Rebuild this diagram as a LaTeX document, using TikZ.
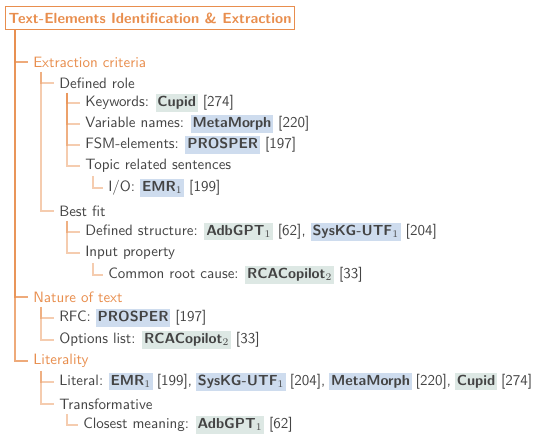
\documentclass[tikz,border=0pt]{standalone}
\usepackage{fontspec}
\usetikzlibrary{calc}
\definecolor{accent}{RGB}{232,142,78}
\definecolor{txt}{RGB}{68,68,68}
\definecolor{hlg}{RGB}{221,232,228}
\definecolor{hlb}{RGB}{206,220,238}
\newcommand{\hlgr}[1]{{\setlength{\fboxsep}{1.3pt}\colorbox{hlg}{\vphantom{Ap}\fontsize{10.2}{12}\selectfont\textbf{#1}}}}
\newcommand{\hlbl}[1]{{\setlength{\fboxsep}{1.3pt}\colorbox{hlb}{\vphantom{Ap}\fontsize{10.2}{12}\selectfont\textbf{#1}}}}
\begin{document}
\begin{tikzpicture}[x=0.7pt, y=-0.7pt,
  font=\sffamily\fontsize{10.5}{12.6}\selectfont,
  lbl/.style={anchor=west, inner sep=0pt, text=txt},
  cat/.style={lbl, text=accent},
  rootbox/.style={draw=accent, line width=0.7pt, text=accent, font=\sffamily\bfseries\fontsize{10.3}{12}\selectfont, anchor=north west, inner xsep=2.2pt, minimum height=16.1pt},
  eone/.style={draw=accent, line width=0.85pt, opacity=0.75},
  etwo/.style={draw=accent, line width=0.85pt, opacity=0.45}]
\useasboundingbox (0,0) rectangle (536,439);
\node[rootbox] (root) at (5,6) {Text-Elements Identification \& Extraction};
% level 1
\node[cat] (ec) at (33,62) {Extraction criteria};
\node[cat] (nt) at (33,297) {Nature of text};
\node[cat] (li) at (33,361) {Literality};
% extraction criteria
\node[lbl] (dr) at (59,83) {Defined role};
\node[lbl] (kw) at (85,103) {Keywords: \hlgr{Cupid} [274]};
\node[lbl] (vn) at (85,124) {Variable names: \hlbl{MetaMorph} [220]};
\node[lbl] (fsm) at (85,145) {FSM-elements: \hlbl{PROSPER} [197]};
\node[lbl] (trs) at (85,166) {Topic related sentences};
\node[lbl] (io) at (108,188) {I/O: \hlbl{EMR\textsubscript{\normalfont 1}} [199]};
\node[lbl] (bf) at (59,211) {Best fit};
\node[lbl] (ds) at (85,232) {Defined structure: \hlgr{AdbGPT\textsubscript{\normalfont 1}} [62], \hlbl{SysKG-UTF\textsubscript{\normalfont 1}} [204]};
\node[lbl] (ip) at (85,253) {Input property};
\node[lbl] (crc) at (108,275) {Common root cause: \hlgr{RCACopilot\textsubscript{\normalfont 2}} [33]};
% nature of text
\node[lbl] (rfc) at (59,318) {RFC: \hlbl{PROSPER} [197]};
\node[lbl] (ol) at (59,340) {Options list: \hlgr{RCACopilot\textsubscript{\normalfont 2}} [33]};
% literality
\node[lbl] (lit) at (59,382) {\spaceskip=2.75pt Literal: \hlbl{EMR\textsubscript{\normalfont 1}} [199], \hlbl{SysKG-UTF\textsubscript{\normalfont 1}} [204], \hlbl{MetaMorph} [220], \hlgr{Cupid} [274]};
\node[lbl] (tr) at (59,404) {Transformative};
\node[lbl] (cm) at (83,425) {Closest meaning: \hlgr{AdbGPT\textsubscript{\normalfont 1}} [62]};
% edges from root
\foreach \c in {ec,nt,li}
  \draw[eone] ($(root.south west)+(10,0)$) |- ($(\c.west)+(-5,0)$);
% generic edges
\foreach \p/\c in {ec/dr, ec/bf, dr/kw, dr/vn, dr/fsm, dr/trs, trs/io, bf/ds, bf/ip, ip/crc, nt/rfc, nt/ol, li/lit, li/tr, tr/cm}
  \draw[etwo] ($(\p.west)+(8,10)$) |- ($(\c.west)+(-5,0)$);
\end{tikzpicture}
\end{document}
